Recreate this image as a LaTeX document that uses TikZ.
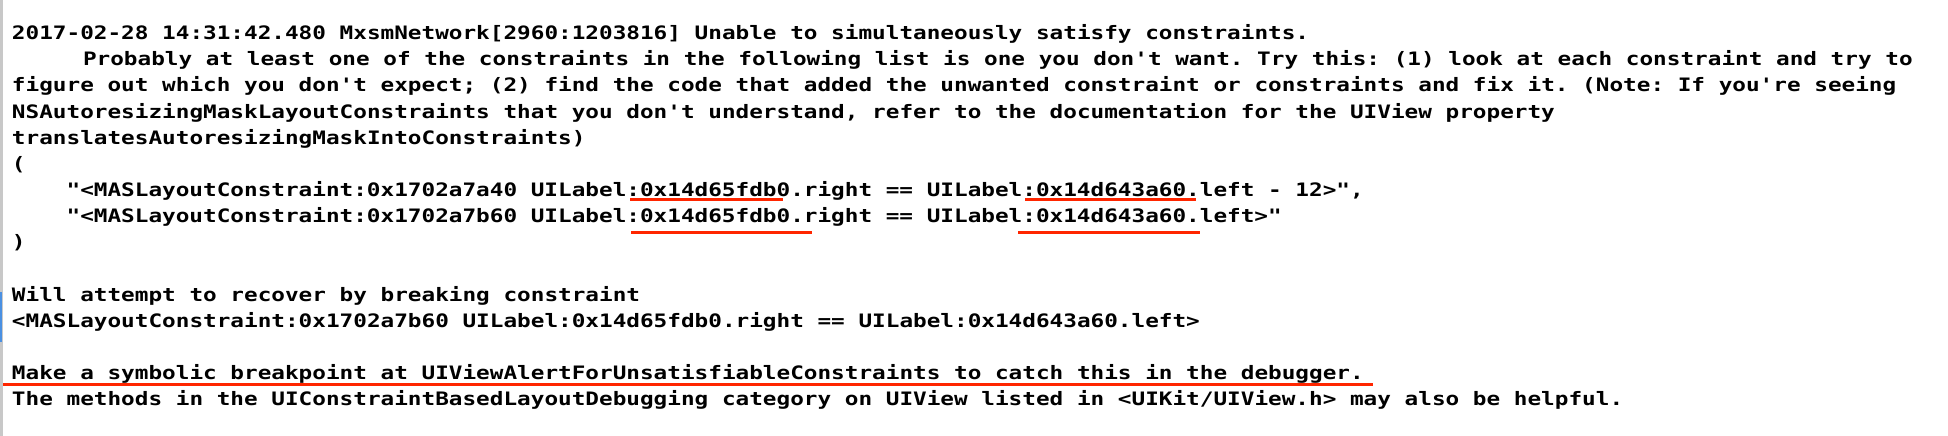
\documentclass[tikz,border=0pt]{standalone}
\usepackage{fontspec}
\setmonofont{DejaVu Sans Mono}[FakeStretch=1.226]
\frenchspacing
\definecolor{ulred}{RGB}{255,38,0}
\definecolor{bargray}{RGB}{200,200,200}
\definecolor{barblue}{RGB}{74,144,226}
\tikzset{
  logline/.style={anchor=base west, inner sep=0pt, outer sep=0pt, text=black,
    font=\ttfamily\bfseries\fontsize{18.5}{22}\selectfont},
  uline/.style={draw=ulred, line width=3pt}
}
\begin{document}
\begin{tikzpicture}[x=1pt,y=-1pt]
\useasboundingbox (0,0) rectangle (1948,436);
\fill[white] (0,0) rectangle (1948,436);
% left gutter
\fill[bargray] (0,0) rectangle (3,436);
\fill[barblue] (0,292) rectangle (2,342);
% text lines
\node[logline] (l1) at (12,40) {2017-02-28 14:31:42.480 MxsmNetwork[2960:1203816] Unable to simultaneously satisfy constraints.};
\node[logline] (l2) at (83,66) {Probably at least one of the constraints in the following list is one you don't want. Try this: (1) look at each constraint and try to};
\node[logline] (l3) at (12,92) {figure out which you don't expect; (2) find the code that added the unwanted constraint or constraints and fix it. (Note: If you're seeing};
\node[logline] (l4) at (12,118) {NSAutoresizingMaskLayoutConstraints that you don't understand, refer to the documentation for the UIView property};
\node[logline] (l5) at (12,144) {translatesAutoresizingMaskIntoConstraints)};
\node[logline] (l6) at (12,170) {(};
\node[logline] (l7) at (66.6,196) {"<MASLayoutConstraint:0x1702a7a40 UILabel:0x14d65fdb0.right == UILabel:0x14d643a60.left - 12>",};
\node[logline] (l8) at (66.6,222) {"<MASLayoutConstraint:0x1702a7b60 UILabel:0x14d65fdb0.right == UILabel:0x14d643a60.left>"};
\node[logline] (l9) at (12,248) {)};
\node[logline] (l11) at (12,301) {Will attempt to recover by breaking constraint};
\node[logline] (l12) at (12,327) {<MASLayoutConstraint:0x1702a7b60 UILabel:0x14d65fdb0.right == UILabel:0x14d643a60.left>};
\node[logline] (l14) at (12,379) {Make a symbolic breakpoint at UIViewAlertForUnsatisfiableConstraints to catch this in the debugger.};
\node[logline] (l15) at (12,405) {The methods in the UIConstraintBasedLayoutDebugging category on UIView listed in <UIKit/UIView.h> may also be helpful.};
% red underlines
\coordinate (u1a) at (630,199); \coordinate (u1b) at (783,199);
\coordinate (u2a) at (1025,199); \coordinate (u2b) at (1196,199);
\coordinate (u3a) at (631,232); \coordinate (u3b) at (812,232);
\coordinate (u4a) at (1018,232); \coordinate (u4b) at (1200,232);
\coordinate (u5a) at (3,384); \coordinate (u5b) at (1373,384);
\draw[uline] (u1a) -- (u1b);
\draw[uline] (u2a) -- (u2b);
\draw[uline] (u3a) -- (u3b);
\draw[uline] (u4a) -- (u4b);
\draw[uline] (u5a) -- (u5b);
\end{tikzpicture}
\end{document}
